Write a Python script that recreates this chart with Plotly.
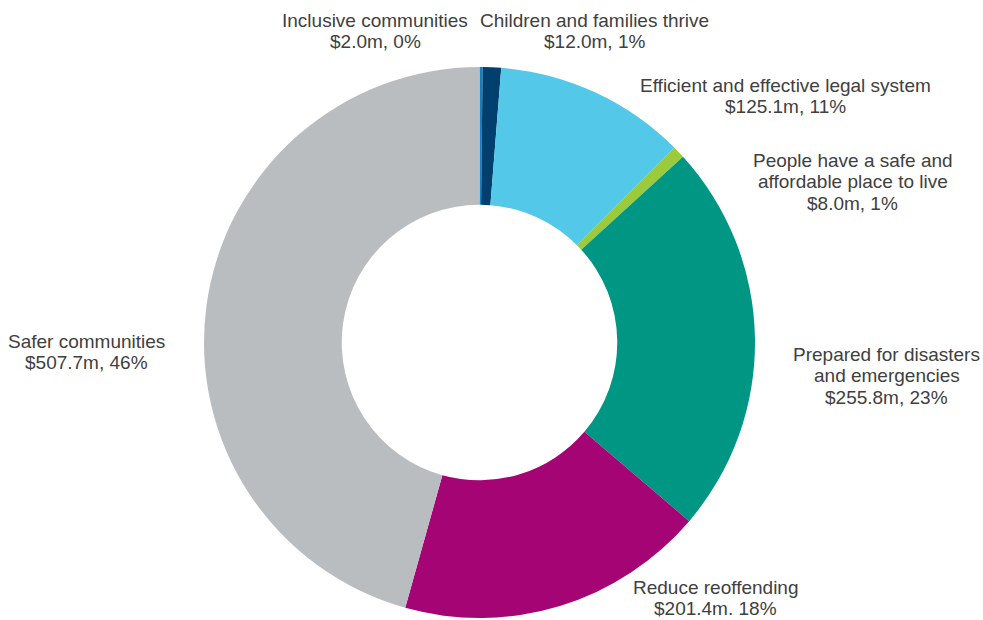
import plotly.graph_objects as go

# Funding by outcome ($m), in clockwise order from 12 o'clock
outcomes = [
    "Inclusive communities",
    "Children and families thrive",
    "Efficient and effective legal system",
    "People have a safe and\naffordable place to live",
    "Prepared for disasters\nand emergencies",
    "Reduce reoffending",
    "Safer communities",
]
amounts = [2.0, 12.0, 125.1, 8.0, 255.8, 201.4, 507.7]
shares = [0, 1, 11, 1, 23, 18, 46]
separators = [", ", ", ", ", ", ", ", ", ", ". ", ", "]
colors = ["#1180BE", "#003F6E", "#54C8E8", "#9BCB3C", "#009684", "#A50574", "#BABDBF"]

W, H = 983, 620
# centre of each label's first line, in pixels from top-left
label_px = [
    (375.0, 19.5),
    (594.7, 19.5),
    (785.3, 84.3),
    (852.5, 159.5),
    (886.7, 353.5),
    (715.5, 586.0),
    (86.5, 340.0),
]
LINE_STEP = 21.4
TEXT_NUDGE = 1.0  # cap-centre vs text-box-centre

fig = go.Figure(
    go.Pie(
        labels=[o.replace("\n", " ") for o in outcomes],
        values=amounts,
        marker=dict(colors=colors, line=dict(width=0)),
        hole=0.5,
        sort=False,
        direction="clockwise",
        rotation=0,
        textinfo="none",
        hoverinfo="label+value",
        domain=dict(x=[204.0 / W, 755.0 / W], y=[2.0 / H, 553.0 / H]),
    )
)

font = dict(family="Liberation Sans, Arial, sans-serif", size=19, color="#404040")
for name, amt, pct, sep, (px, py) in zip(outcomes, amounts, shares, separators, label_px):
    lines = name.split("\n") + [f"${amt:.1f}m{sep}{pct}%"]
    for i, line in enumerate(lines):
        y = py + i * LINE_STEP + TEXT_NUDGE
        fig.add_annotation(
            x=px / W, y=1 - y / H, xref="paper", yref="paper",
            text=line, showarrow=False,
            xanchor="center", yanchor="middle", align="center",
            borderpad=0,
            font=font,
        )

fig.update_layout(
    width=W, height=H,
    margin=dict(l=0, r=0, t=0, b=0),
    showlegend=False,
    paper_bgcolor="white",
    plot_bgcolor="white",
)

fig.write_html("out.html")
